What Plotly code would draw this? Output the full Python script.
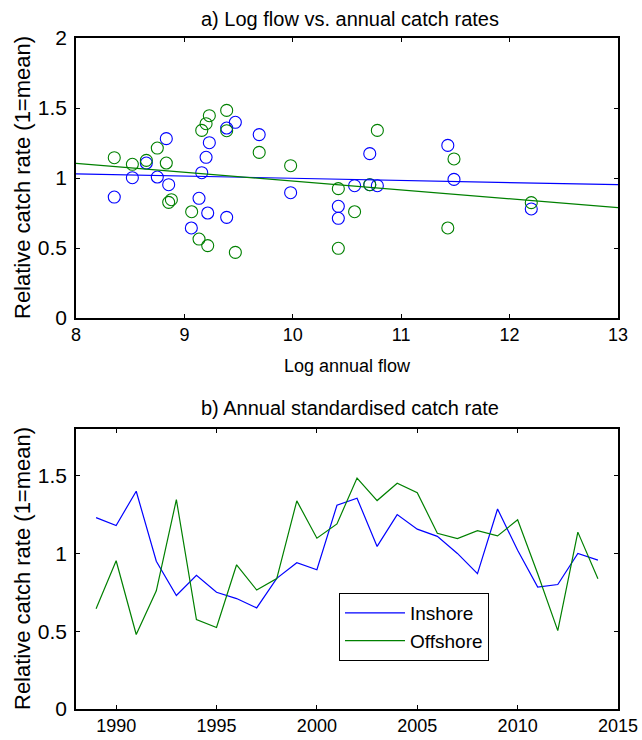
import plotly.graph_objects as go

# ---------------- data ----------------
# panel a) scatter: log annual flow vs relative catch rate
flow_in = [8.353, 8.52, 8.649, 8.75, 8.833, 8.855, 9.064, 9.135, 9.16, 9.20, 9.23, 9.215, 9.39,
           9.39, 9.47, 9.69, 9.98, 10.42, 10.42, 10.57, 10.71, 10.71, 10.78, 11.43, 11.487, 12.20]
rate_in = [0.864, 1.002, 1.107, 1.007, 1.281, 0.952, 0.643, 0.855, 1.038, 1.148, 1.252, 0.75, 1.357,
           0.719, 1.398, 1.31, 0.895, 0.798, 0.712, 0.945, 1.174, 0.952, 0.945, 1.233, 0.99, 0.779]
flow_off = [8.353, 8.52, 8.649, 8.75, 8.833, 8.855, 8.88, 9.067, 9.135, 9.16, 9.20, 9.23, 9.215,
            9.39, 9.39, 9.47, 9.69, 9.98, 10.42, 10.42, 10.57, 10.71, 10.78, 11.43, 11.487, 12.20]
rate_off = [1.145, 1.098, 1.126, 1.214, 1.107, 0.826, 0.845, 0.759, 0.564, 1.34, 1.388, 1.445, 0.517,
            1.483, 1.338, 0.469, 1.183, 1.088, 0.924, 0.498, 0.759, 0.952, 1.34, 0.643, 1.136, 0.824]
# linear fits (intercept, slope)
fit_in = (1.1522, -0.0154)
fit_off = (1.6122, -0.0634)
fit_x = [8, 13]

# panel b) annual standardised catch rate
years = list(range(1989, 2015))
inshore = [1.23, 1.18, 1.40, 0.95, 0.73, 0.86, 0.75, 0.71, 0.65, 0.84, 0.94, 0.895, 1.31,
           1.355, 1.045, 1.25, 1.156, 1.11, 1.00, 0.87, 1.286, 1.02, 0.784, 0.80, 1.00, 0.957]
offshore = [0.645, 0.953, 0.479, 0.76, 1.346, 0.575, 0.524, 0.927, 0.765, 0.838, 1.338, 1.098, 1.19,
            1.485, 1.34, 1.451, 1.391, 1.13, 1.096, 1.147, 1.113, 1.216, 0.87, 0.504, 1.137, 0.838]

x_ticks_a = [8, 9, 10, 11, 12, 13]
y_ticks_a = [0, 0.5, 1, 1.5, 2]
x_ticks_b = [1990, 1995, 2000, 2005, 2010, 2015]
y_ticks_b = [0, 0.5, 1, 1.5]

BLUE = "rgb(0,0,255)"
GREEN = "rgb(0,128,0)"
W, H = 642, 740
FONT = "Liberation Sans, Arial, sans-serif"

fig = go.Figure()

# panel a
fig.add_trace(go.Scatter(x=flow_in, y=rate_in, mode="markers", xaxis="x", yaxis="y",
                         marker=dict(symbol="circle-open", size=12, color=BLUE, line=dict(width=1.1)),
                         showlegend=False))
fig.add_trace(go.Scatter(x=flow_off, y=rate_off, mode="markers", xaxis="x", yaxis="y",
                         marker=dict(symbol="circle-open", size=12, color=GREEN, line=dict(width=1.1)),
                         showlegend=False))
fig.add_trace(go.Scatter(x=fit_x, y=[fit_in[0] + fit_in[1] * v for v in fit_x], mode="lines",
                         xaxis="x", yaxis="y", line=dict(color=BLUE, width=1.2), showlegend=False))
fig.add_trace(go.Scatter(x=fit_x, y=[fit_off[0] + fit_off[1] * v for v in fit_x], mode="lines",
                         xaxis="x", yaxis="y", line=dict(color=GREEN, width=1.2), showlegend=False))

# panel b
fig.add_trace(go.Scatter(x=years, y=inshore, mode="lines", name="Inshore", xaxis="x2", yaxis="y2",
                         line=dict(color=BLUE, width=1.2)))
fig.add_trace(go.Scatter(x=years, y=offshore, mode="lines", name="Offshore", xaxis="x2", yaxis="y2",
                         line=dict(color=GREEN, width=1.2)))

def px_x(p):
    return p / W

def px_y(p):
    return 1 - p / H

common_axis = dict(showline=True, linecolor="black", linewidth=1.6, mirror="ticks",
                   ticks="inside", ticklen=4, tickwidth=1, tickcolor="black",
                   showgrid=False, zeroline=False, automargin=False)

XTF = dict(family=FONT, size=18, color="black")
YTF = dict(family=FONT, size=21, color="black")

fig.update_layout(
    width=W, height=H, margin=dict(l=0, r=0, t=0, b=0, autoexpand=False),
    paper_bgcolor="white", plot_bgcolor="white",
    xaxis=dict(domain=[px_x(76), px_x(618)], range=[8, 13], tickvals=x_ticks_a,
               tickfont=XTF, anchor="y", **common_axis),
    yaxis=dict(domain=[px_y(318), px_y(38)], range=[0, 2], tickvals=y_ticks_a,
               tickfont=YTF, anchor="x", ticklabelstandoff=3, **common_axis),
    xaxis2=dict(domain=[px_x(76), px_x(618)], range=[1988, 2015], tickvals=x_ticks_b,
                tickfont=XTF, anchor="y2", **common_axis),
    yaxis2=dict(domain=[px_y(709), px_y(429)], range=[0, 1.8], tickvals=y_ticks_b,
                tickfont=YTF, anchor="x2", ticklabelstandoff=3, **common_axis),
    legend=dict(x=px_x(339), y=px_y(593), xanchor="left", yanchor="top",
                bordercolor="black", borderwidth=1, bgcolor="white",
                font=dict(family=FONT, size=19, color="black"), itemwidth=60,
                tracegroupgap=0),
    annotations=[
        dict(text="a) Log flow vs. annual catch rates", x=px_x(350), y=px_y(19), xref="paper",
             yref="paper", showarrow=False, xanchor="center", yanchor="middle",
             font=dict(family=FONT, size=20, color="black")),
        dict(text="b) Annual standardised catch rate", x=px_x(350), y=px_y(408), xref="paper",
             yref="paper", showarrow=False, xanchor="center", yanchor="middle",
             font=dict(family=FONT, size=20, color="black")),
        dict(text="Log annual flow", x=px_x(347), y=px_y(366), xref="paper", yref="paper",
             showarrow=False, xanchor="center", yanchor="middle",
             font=dict(family=FONT, size=18, color="black")),
        dict(text="Relative catch rate (1=mean)", x=px_x(22), y=px_y(178), xref="paper",
             yref="paper", showarrow=False, xanchor="center", yanchor="middle", textangle=-90,
             font=dict(family=FONT, size=22, color="black")),
        dict(text="Relative catch rate (1=mean)", x=px_x(22), y=px_y(569), xref="paper",
             yref="paper", showarrow=False, xanchor="center", yanchor="middle", textangle=-90,
             font=dict(family=FONT, size=22, color="black")),
    ],
)

fig.write_html("out.html")
